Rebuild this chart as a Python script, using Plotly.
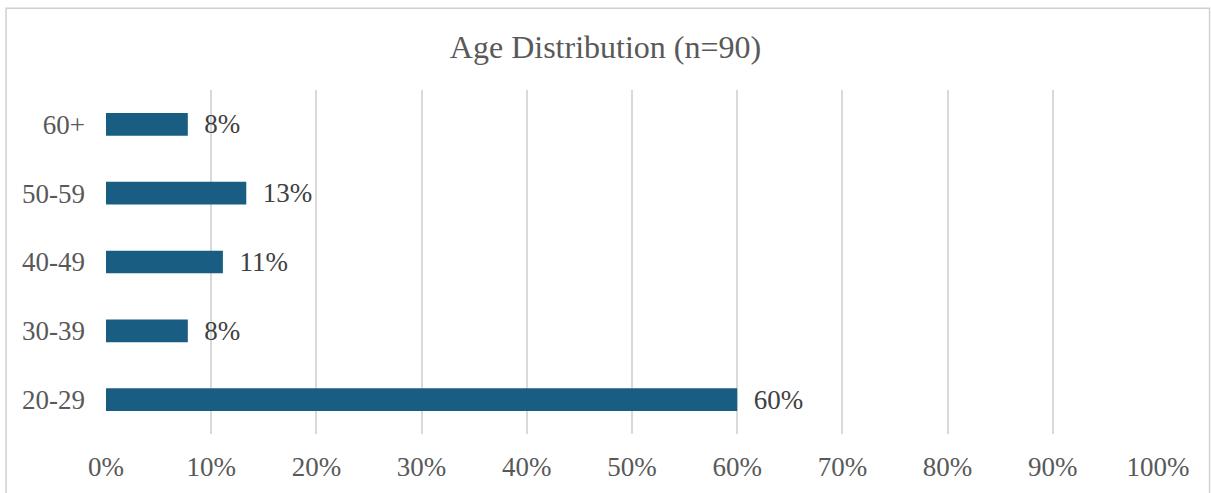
import plotly.graph_objects as go

categories = ["20-29", "30-39", "40-49", "50-59", "60+"]
counts = [54, 7, 10, 12, 7]
n_total = 90
percent = [c / n_total * 100 for c in counts]
x_ticks = [0, 10, 20, 30, 40, 50, 60, 70, 80, 90, 100]
x_tick_labels = [f"{v}%" for v in x_ticks]

FONT = "Liberation Serif, Times New Roman, serif"
TEXT = "#595959"

fig = go.Figure(go.Bar(
    y=categories,
    x=percent,
    orientation="h",
    width=0.33,
    marker=dict(color="#195E82", line=dict(width=0)),
    texttemplate="  %{x:.0f}%",
    textposition="outside",
    constraintext="none",
    textfont=dict(family=FONT, size=27, color="#404040"),
    cliponaxis=False,
))

fig.update_layout(
    width=1211, height=493,
    margin=dict(l=106, r=53, t=90, b=59),
    paper_bgcolor="white", plot_bgcolor="white",
    title=dict(text="Age Distribution (n=90)", x=0.5, xanchor="center",
               y=1 - 47 / 493, yanchor="middle",
               font=dict(family=FONT, size=32, color=TEXT)),
    showlegend=False,
    bargap=0.67,
    xaxis=dict(range=[0, 100], tickmode="array", tickvals=x_ticks, ticktext=x_tick_labels,
               showgrid=True, gridcolor="#D9D9D9", gridwidth=1.5,
               zeroline=False, showline=False,
               tickfont=dict(family=FONT, size=27, color=TEXT),
               ticklabelstandoff=14),
    yaxis=dict(categoryorder="array", categoryarray=categories,
               showgrid=False, zeroline=False, showline=False,
               tickfont=dict(family=FONT, size=27, color=TEXT),
               ticklabelstandoff=20),
    shapes=[dict(type="rect", xref="paper", yref="paper",
                 x0=-0.095, x1=1.049, y0=-0.3, y1=1.238,
                 line=dict(color="#D0D0D0", width=1.5), fillcolor="rgba(0,0,0,0)",
                 layer="below")],
)

fig.write_html("out.html")
